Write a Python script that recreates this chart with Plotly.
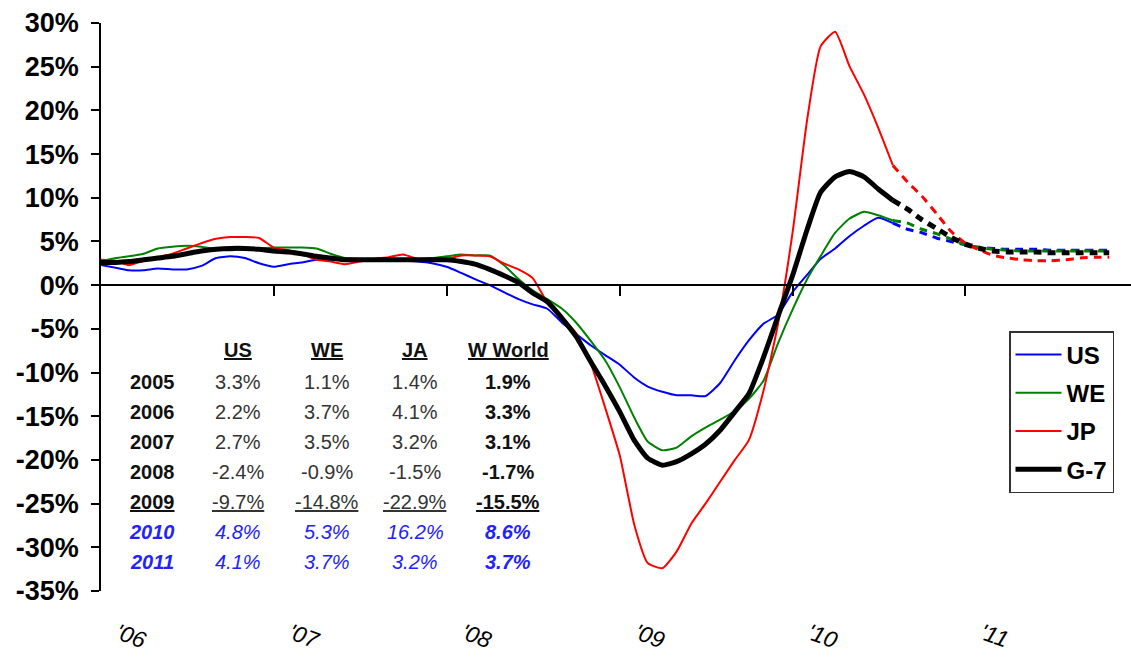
import pandas as pd
import plotly.graph_objects as go

# ---------------- data ----------------
months = pd.date_range("2006-01-01", periods=71, freq="MS")
solid_end = 55  # last month with actual (solid) data, Aug 2010

us = [2.3, 2.0, 1.7, 1.7, 1.9, 1.8, 1.8, 2.2, 3.1, 3.3,
      3.1, 2.5, 2.1, 2.4, 2.6, 2.9, 2.9, 2.9, 2.8, 2.8,
      2.8, 2.8, 2.7, 2.5, 2.1, 1.4, 0.7, 0.0, -0.8, -1.6,
      -2.2, -2.7, -4.3, -5.6, -6.9, -8.0, -9.1, -10.6, -11.6, -12.2,
      -12.6, -12.6, -12.7, -11.2, -8.6, -6.3, -4.4, -3.4, -0.8, 1.2,
      3.0, 4.2, 5.6, 6.8, 7.7, 7.1, 6.4, 6.0, 5.4, 5.0,
      4.6, 4.3, 4.2, 4.1, 4.1, 4.1, 4.0, 4.0, 4.0, 4.0, 4.0]
we = [2.7, 3.1, 3.3, 3.6, 4.2, 4.4, 4.5, 4.4, 4.1, 4.0,
      4.1, 4.2, 4.3, 4.3, 4.3, 4.2, 3.6, 3.1, 3.0, 3.0,
      3.0, 3.0, 3.0, 3.1, 3.3, 3.5, 3.4, 3.4, 2.3, 0.7,
      -0.6, -1.6, -2.7, -4.3, -6.4, -8.6, -11.7, -15.2, -17.9, -18.9,
      -18.6, -17.3, -16.3, -15.4, -14.4, -13.0, -10.9, -6.7, -2.8, 0.7,
      3.3, 6.0, 7.6, 8.4, 8.0, 7.4, 7.1, 6.4, 5.9, 5.3,
      4.6, 4.3, 4.1, 4.0, 3.9, 3.9, 3.9, 3.9, 3.9, 3.9, 3.9]
jp = [2.9, 2.8, 2.3, 2.8, 3.2, 3.6, 4.2, 4.8, 5.3, 5.5,
      5.5, 5.4, 4.3, 4.0, 3.6, 2.9, 2.7, 2.4, 2.7, 3.0,
      3.2, 3.5, 3.0, 3.0, 3.0, 3.4, 3.4, 3.3, 2.5, 1.8,
      0.8, -2.0, -3.7, -5.5, -9.0, -14.0, -19.5, -27.5, -31.8, -32.4,
      -30.5, -27.3, -25.0, -22.5, -20.0, -17.7, -12.0, -4.5, 6.0, 19.0,
      27.3, 29.0, 25.1, 21.8, 18.0, 13.7, 11.8, 10.2, 8.2, 6.2,
      4.8, 4.0, 3.4, 3.1, 2.9, 2.8, 2.8, 2.9, 3.1, 3.2, 3.2]
g7 = [2.6, 2.6, 2.7, 2.9, 3.1, 3.3, 3.6, 3.9, 4.1, 4.2,
      4.2, 4.1, 3.9, 3.8, 3.6, 3.3, 3.1, 2.9, 2.9, 2.9,
      2.9, 2.9, 2.9, 2.9, 2.9, 2.7, 2.4, 1.8, 1.1, 0.3,
      -0.9, -1.9, -3.8, -5.9, -8.8, -11.5, -14.5, -17.8, -19.8, -20.6,
      -20.2, -19.3, -18.2, -16.6, -14.5, -12.4, -8.2, -3.6, 1.1, 6.4,
      10.6, 12.4, 13.0, 12.4, 11.0, 9.7, 8.7, 7.5, 6.5, 5.5,
      4.7, 4.2, 3.9, 3.8, 3.8, 3.8, 3.7, 3.7, 3.7, 3.7, 3.7]

series_names = ["US", "WE", "JP", "G-7"]
series_values = [us, we, jp, g7]
series_colors = ["#0000FF", "#008000", "#FF0000", "#000000"]
series_widths = [2, 2, 2, 5]

year_ticks = ["2006-01-01", "2007-01-01", "2008-01-01", "2009-01-01", "2010-01-01", "2011-01-01"]
year_labels = ["'06", "'07", "'08", "'09", "'10", "'11"]
y_ticks = [30, 25, 20, 15, 10, 5, 0, -5, -10, -15, -20, -25, -30, -35]

table_years = ["2005", "2006", "2007", "2008", "2009", "2010", "2011"]
table_headers = ["US", "WE", "JA", "W World"]
tbl_us = ["3.3%", "2.2%", "2.7%", "-2.4%", "-9.7%", "4.8%", "4.1%"]
tbl_we = ["1.1%", "3.7%", "3.5%", "-0.9%", "-14.8%", "5.3%", "3.7%"]
tbl_ja = ["1.4%", "4.1%", "3.2%", "-1.5%", "-22.9%", "16.2%", "3.2%"]
tbl_ww = ["1.9%", "3.3%", "3.1%", "-1.7%", "-15.5%", "8.6%", "3.7%"]
forecast_years = ["2010", "2011"]

# ---------------- layout geometry (page px) ----------------
W, H = 1131, 659
L, R, T = 101, 0, 23
B = H - 591
PW, PH = W - L - R, H - T - B
FONT = "Liberation Sans, Arial, sans-serif"


def px(x, y):
    """page pixel -> paper coordinates"""
    return (x - L) / PW, (H - B - y) / PH


x_range = ["2006-01-01", "2011-12-17"]

fig = go.Figure()
for name, vals, col, wd in zip(series_names, series_values, series_colors, series_widths):
    fig.add_trace(go.Scatter(
        x=months[:solid_end + 1], y=vals[:solid_end + 1], mode="lines", name=name,
        legendgroup=name, line=dict(color=col, width=wd, shape="spline", smoothing=0.5),
        hoverinfo="skip"))
    fig.add_trace(go.Scatter(
        x=months[solid_end:], y=vals[solid_end:], mode="lines", name=name,
        legendgroup=name, showlegend=False,
        line=dict(color=col, width=wd + (1 if wd < 3 else 0), dash="8px,6px",
                  shape="spline", smoothing=0.5),
        hoverinfo="skip"))

# helper trace for the zero-line axis
fig.add_trace(go.Scatter(x=[months[0]], y=[None], xaxis="x2", showlegend=False,
                         hoverinfo="skip", mode="lines"))

# ---------------- table annotations ----------------
col_x = [152, 238, 327, 415, 508]
header_y = 350
row_y0, row_dy = 382, 30
tblfs = 20
blue = "#2222FF"

for j, h in enumerate(table_headers):
    xx, yy = px(col_x[j + 1], header_y)
    fig.add_annotation(x=xx, y=yy, xref="paper", yref="paper", showarrow=False,
                       text=f"<b><u>{h}</u></b>", font=dict(family=FONT, size=tblfs, color="#111"),
                       xanchor="center", yanchor="middle")

columns = [tbl_us, tbl_we, tbl_ja, tbl_ww]
for i, yr in enumerate(table_years):
    yy = px(0, row_y0 + i * row_dy)[1]
    forecast = yr in forecast_years
    underline = yr == "2009"
    cells = [yr] + [c[i] for c in columns]
    for j, txt in enumerate(cells):
        bold = (j == 0 or j == 4)
        t = txt
        if underline:
            t = f"<u>{t}</u>"
        if bold:
            t = f"<b>{t}</b>"
        if forecast:
            t = f"<i>{t}</i>"
            color = blue
        else:
            color = "#111" if bold else "#333"
        fig.add_annotation(x=px(col_x[j], 0)[0], y=yy, xref="paper", yref="paper",
                           showarrow=False, text=t,
                           font=dict(family=FONT, size=tblfs, color=color),
                           xanchor="center", yanchor="middle")

lx, ly = px(1009, 331)
label_vals = [pd.Timestamp(v) + pd.Timedelta(days=36) for v in year_ticks]

fig.update_layout(
    width=W, height=H,
    margin=dict(l=L, r=R, t=T, b=B, pad=0),
    paper_bgcolor="white", plot_bgcolor="white",
    font=dict(family=FONT, color="black"),
    showlegend=True,
    legend=dict(x=lx, y=ly, xanchor="left", yanchor="top",
                bordercolor="#333", borderwidth=1.5, bgcolor="white",
                font=dict(family=FONT, size=24, color="black", weight="bold"),
                traceorder="grouped", tracegroupgap=4, itemwidth=46),
    xaxis=dict(type="date", range=x_range, tickvals=label_vals,
               ticktext=[f"<i>{t}</i>" for t in year_labels],
               tickangle=20, ticks="", showline=False, showgrid=False, zeroline=False,
               tickfont=dict(family=FONT, size=23, color="black"),
               ticklabelstandoff=24),
    xaxis2=dict(type="date", range=x_range, overlaying="x", anchor="free",
                position=35 / 65, side="bottom", tickvals=year_ticks[1:],
                showticklabels=False, ticks="outside", ticklen=10, tickwidth=1.5,
                tickcolor="black", showline=True, linecolor="black", linewidth=1.5,
                showgrid=False, zeroline=False),
    yaxis=dict(range=[-35, 30], tickvals=y_ticks,
               ticktext=[f"{v}%" for v in y_ticks],
               ticks="outside", ticklen=8, tickwidth=1.5, tickcolor="black",
               showline=True, linecolor="black", linewidth=1.5,
               showgrid=False, zeroline=False,
               tickfont=dict(family=FONT, size=27, color="black", weight="bold"),
               ticklabelstandoff=7),
)

fig.write_html(
    "out.html",
    config={"displayModeBar": False},
    post_script="document.body.style.margin='0';document.body.style.overflow='hidden';",
)
